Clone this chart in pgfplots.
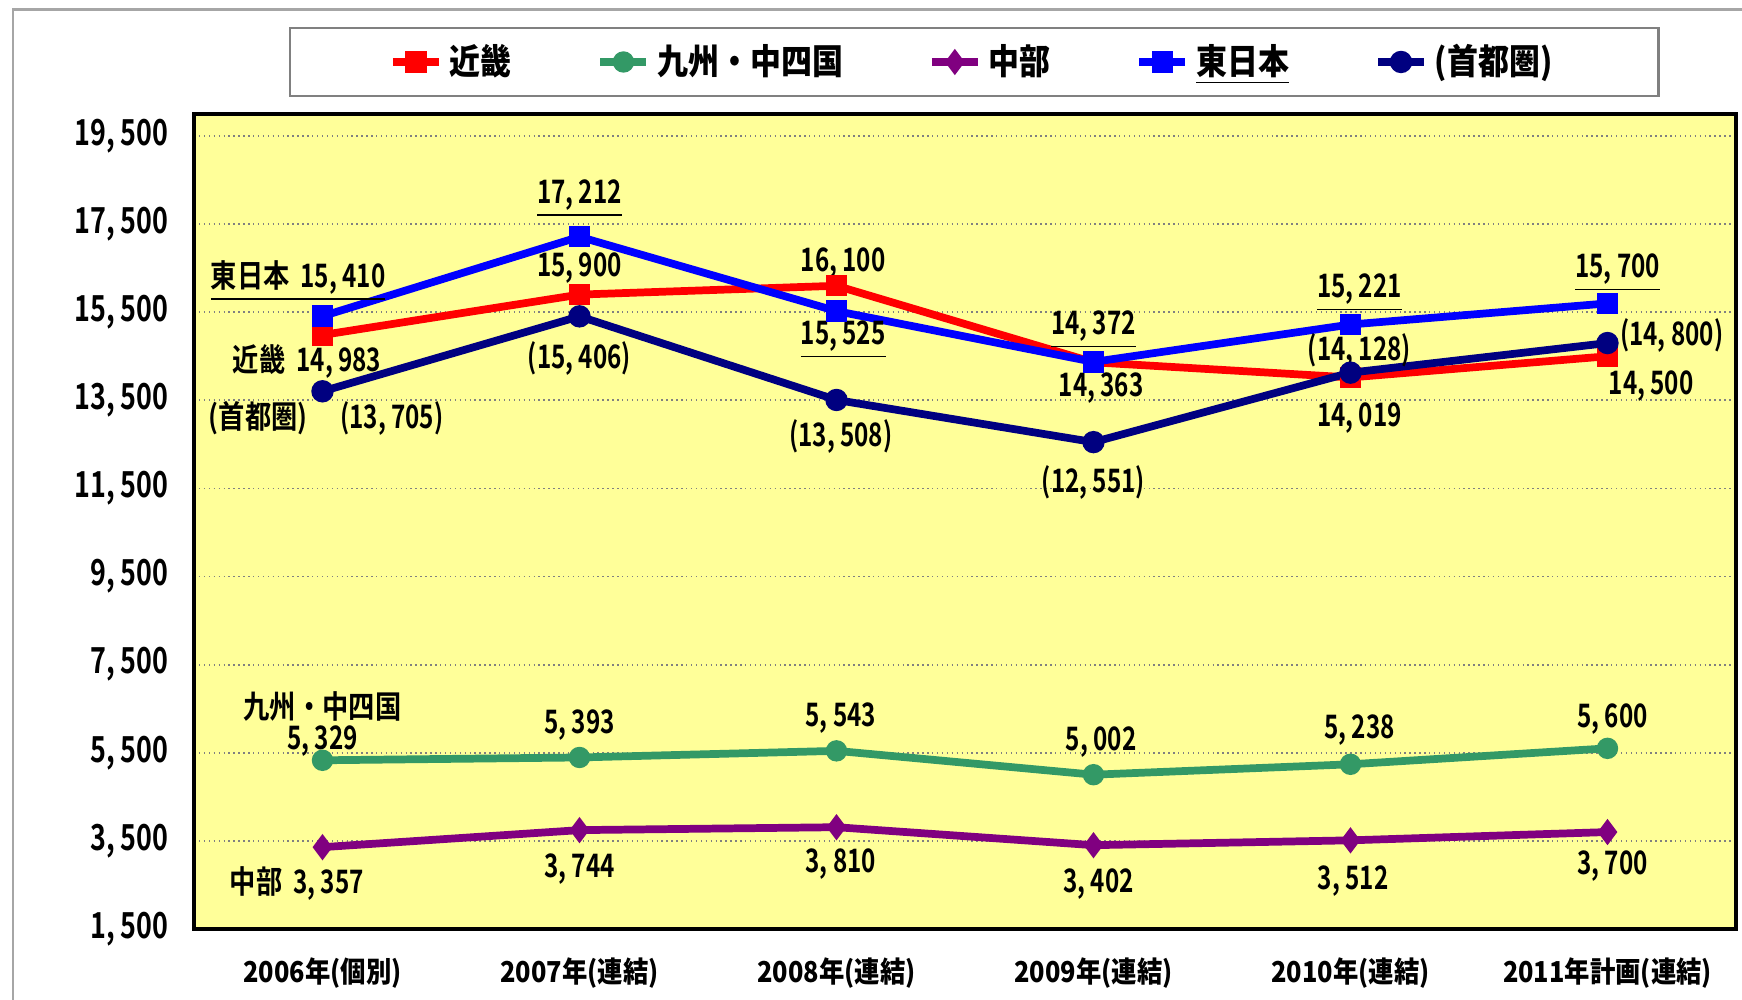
\documentclass[border=0pt]{standalone}
\usepackage{fontspec}
\setmainfont{Noto Sans CJK JP}[FakeStretch=0.88]
\newfontfamily\medfont{Noto Sans CJK JP}[UprightFont={* Bold}, FakeStretch=0.83]
\newfontfamily\numfont{Noto Sans CJK JP}[UprightFont={* Bold}, FakeStretch=0.75]
\usepackage{pgfplots}
\pgfplotsset{compat=1.18}
\definecolor{kinki}{RGB}{255,0,0}
\definecolor{kyushu}{RGB}{51,153,102}
\definecolor{chubu}{RGB}{128,0,128}
\definecolor{east}{RGB}{0,0,255}
\definecolor{metro}{RGB}{0,0,128}
\definecolor{bg}{RGB}{255,255,153}
\newcommand{\lbl}{\numfont\fontsize{9.2}{11}\selectfont}
\newcommand{\cj}[1]{{\medfont\fontsize{9}{11}\selectfont #1}}
\newcommand{\yl}[1]{\textnormal{\numfont\fontsize{10.2}{12}\selectfont #1}}
\begin{document}
\begin{tikzpicture}
\useasboundingbox (0,0) rectangle (174.2mm,100mm);
\draw[gray!70, line width=0.8pt] (1.3mm,0) -- (1.3mm,99.05mm) -- (174.2mm,99.05mm);
\begin{axis}[
  at={(19.4mm,7.1mm)}, anchor=south west,
  width=154.2mm, height=81.5mm, scale only axis,
  xmin=-0.5, xmax=5.5, ymin=1500, ymax=20000,
  scaled y ticks=false,
  xtick={0,1,2,3,4,5},
  xticklabels={2006年(個別),2007年(連結),2008年(連結),2009年(連結),2010年(連結),2011年計画(連結)},
  ytick={1500,3500,5500,7500,9500,11500,13500,15500,17500,19500},
  yticklabels={\yl{1,\,500},\yl{3,\,500},\yl{5,\,500},\yl{7,\,500},\yl{9,\,500},\yl{11,\,500},\yl{13,\,500},\yl{15,\,500},\yl{17,\,500},\yl{19,\,500}},
  major tick length=0,
  axis line style={line width=1.2pt},
  axis background/.style={fill=bg},
  ymajorgrids,
  major grid style={densely dotted, gray, line width=0.5pt},
  xticklabel style={font=\bfseries\fontsize{8.2}{9}\selectfont, yshift=-1.6mm},
  yticklabel style={xshift=-1.3mm},
  clip=false,
  legend columns=5,
  legend style={at={(0.506,1.0638)}, anchor=center, draw=gray, line width=0.6pt, fill=white,
    font=\bfseries\fontsize{10}{11}\selectfont, inner xsep=9.9mm, inner ysep=0.9mm,
    /tikz/every even column/.append style={column sep=7.8mm}},
  legend image code/.code={\draw[mark repeat=2,mark phase=2] plot coordinates {(0mm,0mm)(2.3mm,0mm)(4.6mm,0mm)};},
]
\addplot[kinki, line width=2.2pt, mark=square*, mark size=1mm, mark options={line width=0.4pt, fill=kinki}]
  coordinates {(0,14983)(1,15900)(2,16100)(3,14363)(4,14019)(5,14500)};
\addlegendentry{近畿}
\addplot[kyushu, line width=2.2pt, mark=*, mark size=1mm, mark options={line width=0.4pt, fill=kyushu}]
  coordinates {(0,5329)(1,5393)(2,5543)(3,5002)(4,5238)(5,5600)};
\addlegendentry{九州・中四国}
\addplot[chubu, line width=2.2pt, mark=diamond*, mark size=1.2mm, mark options={line width=0.4pt, fill=chubu}]
  coordinates {(0,3357)(1,3744)(2,3810)(3,3402)(4,3512)(5,3700)};
\addlegendentry{中部}
\addplot[east, line width=2.2pt, mark=square*, mark size=1mm, mark options={line width=0.4pt, fill=east}]
  coordinates {(0,15410)(1,17212)(2,15525)(3,14372)(4,15221)(5,15700)};
\addlegendentry{\underline{東日本}}
\addplot[metro, line width=2.2pt, mark=*, mark size=1.05mm, mark options={line width=0.4pt, fill=metro}]
  coordinates {(0,13705)(1,15406)(2,13508)(3,12551)(4,14128)(5,14800)};
\addlegendentry{(首都圏)}
% labels 2006
\node[font=\lbl] at (axis cs:-0.095,16218) {\underline{\cj{東日本}\ \ 15,\,410}};
\node[font=\lbl] at (axis cs:-0.06,14375) {\cj{近畿}\ \ 14,\,983};
\node[font=\lbl] at (axis cs:-0.25,13088) {\cj{(首都圏)}};
\node[font=\lbl] at (axis cs:0.27,13088) {(13,\,705)};
\node[font=\lbl] at (axis cs:0,6549) {\cj{九州・中四国}};
\node[font=\lbl] at (axis cs:0,5767) {5,\,329};
\node[font=\lbl] at (axis cs:-0.10,2535) {\cj{中部}\ \ 3,\,357};
% 2007
\node[font=\lbl] at (axis cs:1,18086) {\underline{17,\,212}};
\node[font=\lbl] at (axis cs:1,16496) {15,\,900};
\node[font=\lbl] at (axis cs:1,14451) {(15,\,406)};
\node[font=\lbl] at (axis cs:1,6120) {5,\,393};
\node[font=\lbl] at (axis cs:1,2864) {3,\,744};
% 2008
\node[font=\lbl] at (axis cs:2.026,16622) {16,\,100};
\node[font=\lbl] at (axis cs:2.026,14880) {\underline{15,\,525}};
\node[font=\lbl] at (axis cs:2.017,12684) {(13,\,508)};
\node[font=\lbl] at (axis cs:2.017,6297) {5,\,543};
\node[font=\lbl] at (axis cs:2.017,2965) {3,\,810};
% 2009
\node[font=\lbl] at (axis cs:3,15107) {\underline{14,\,372}};
\node[font=\lbl] at (axis cs:3.03,13769) {14,\,363};
\node[font=\lbl] at (axis cs:3,11624) {(12,\,551)};
\node[font=\lbl] at (axis cs:3.03,5741) {5,\,002};
\node[font=\lbl] at (axis cs:3.02,2510) {3,\,402};
% 2010
\node[font=\lbl] at (axis cs:4.035,15940) {\underline{15,\,221}};
\node[font=\lbl] at (axis cs:4.035,14628) {(14,\,128)};
\node[font=\lbl] at (axis cs:4.035,13088) {14,\,019};
\node[font=\lbl] at (axis cs:4.035,6019) {5,\,238};
\node[font=\lbl] at (axis cs:4.01,2586) {3,\,512};
% 2011
\node[font=\lbl] at (axis cs:5.04,16395) {\underline{15,\,700}};
\node[font=\lbl] at (axis cs:5.25,14981) {(14,\,800)};
\node[font=\lbl] at (axis cs:5.17,13820) {14,\,500};
\node[font=\lbl] at (axis cs:5.02,6272) {5,\,600};
\node[font=\lbl] at (axis cs:5.02,2939) {3,\,700};
\end{axis}
\end{tikzpicture}
\end{document}
